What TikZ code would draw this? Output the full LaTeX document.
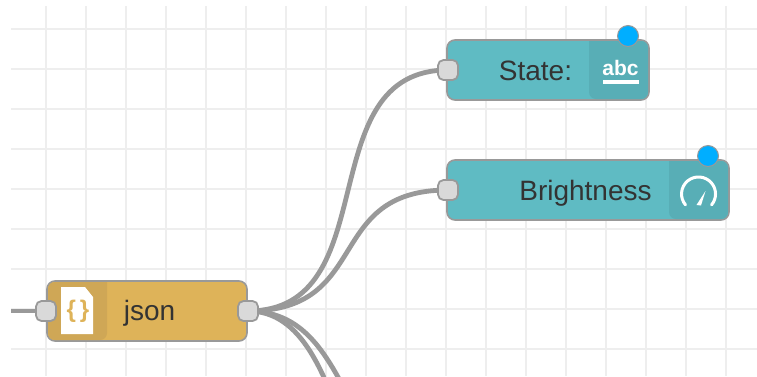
\documentclass[tikz,border=0pt]{standalone}
\usepackage{fontspec}
\setmainfont{Liberation Sans}
\pgfdeclarelayer{gridlayer}
\pgfdeclarelayer{wirelayer}
\pgfsetlayers{gridlayer,wirelayer,main}
\definecolor{tealbody}{HTML}{5FBBC3}
\definecolor{tealpanel}{HTML}{58AEB6}
\definecolor{goldbody}{HTML}{DEB359}
\definecolor{goldpanel}{HTML}{CFA756}
\definecolor{edge}{HTML}{999999}
\definecolor{portfill}{HTML}{D9D9D9}
\definecolor{wirecol}{HTML}{999999}
\definecolor{gridcol}{HTML}{EEEEEE}
\definecolor{dotblue}{HTML}{00AEFF}
\definecolor{labelcol}{HTML}{333333}
\tikzset{
  flownode/.style={draw=edge,line width=1.6pt,rounded corners=8pt,inner sep=0pt,minimum height=60pt},
  portbox/.style={draw=edge,fill=portfill,line width=1.8pt,rounded corners=5.5pt,inner sep=0pt,minimum width=20pt,minimum height=20pt},
  wire/.style={draw=wirecol,line width=4.8pt},
  statusdot/.style={circle,draw=edge,fill=dotblue,line width=1pt,inner sep=0pt,minimum size=21pt},
  nodelabel/.style={text=labelcol,font=\fontsize{28}{30}\selectfont,inner sep=0pt,anchor=base},
  gridline/.style={draw=gridcol,line width=2pt}
}
\begin{document}
\begin{tikzpicture}[x=1pt,y=-1pt]
\useasboundingbox (0,0) rectangle (757,376);
% nodes
\node[flownode,fill=tealbody,minimum width=202pt] (state) at (548,70) {};
\node[flownode,fill=tealbody,minimum width=282pt] (bright) at (588,190) {};
\node[flownode,fill=goldbody,minimum width=200pt] (json) at (147,311) {};
% icon panels
\fill[tealpanel,rounded corners=7pt] (589,41) -- (648,41) -- (648,99) -- (589,99) [sharp corners] -- cycle;
\fill[tealpanel,rounded corners=7pt] (669,161) -- (728,161) -- (728,219) -- (669,219) [sharp corners] -- cycle;
\fill[goldpanel,rounded corners=7pt] (107,282) -- (48,282) -- (48,340) -- (107,340) [sharp corners] -- cycle;
% ports
\node[portbox] (statein) at (448,70) {};
\node[portbox] (brightin) at (448,190) {};
\node[portbox] (jsonin) at (46,311) {};
\node[portbox] (jsonout) at (248,311) {};
% status dots
\node[statusdot] (statedot) at (628,36) {};
\node[statusdot] (brightdot) at (708,156) {};
% labels
\node[nodelabel] (statelabel) at (535.5,80) {State:};
\node[nodelabel] (brightlabel) at (585.5,200) {Brightness};
\node[nodelabel] (jsonlabel) at (149.5,320) {json};
% abc icon
\node[text=white,font=\bfseries\fontsize{21}{24}\selectfont,inner sep=0pt,anchor=base] (abc) at (620.5,75.5) {abc};
\fill[white] (602.5,80) rectangle (638.5,84);
% gauge icon
\draw[white,line width=3pt,line cap=round] (685.5,204.9) arc[start angle=220,end angle=-40,radius=17pt];
\fill[white] (696.5,205) -- (705.5,191) -- (701,205.5) -- cycle;
% document icon
\fill[white] (61,287) -- (85,287) -- (93,297) -- (93,334) -- (61,334) -- cycle;
\node[text=goldbody,font=\bfseries\fontsize{24}{26}\selectfont,inner sep=0pt] (braces) at (78,311) {\{\,\}};
% wires and grid
\begin{pgfonlayer}{gridlayer}
\fill[white] (0,0) rectangle (757,376);
\foreach \gx in {46,86,...,726} \draw[gridline] (\gx,6) -- (\gx,376);
\foreach \gy in {29,69,...,349} \draw[gridline] (11,\gy) -- (757,\gy);
\end{pgfonlayer}
\begin{pgfonlayer}{wirelayer}
\begin{scope}
\clip (0,0) rectangle (757,376);
\coordinate (leftend) at (11,311);
\coordinate (offa) at (448,480);
\coordinate (offb) at (448,570);
\draw[wire] (leftend) -- (jsonin.center);
\draw[wire] (jsonout.center) .. controls +(140,0) and +(-140,0) .. (statein.center);
\draw[wire] (jsonout.center) .. controls +(125,0) and +(-125,0) .. (brightin.center);
\draw[wire] (jsonout.center) .. controls +(110,0) and +(-110,0) .. (offa);
\draw[wire] (jsonout.center) .. controls +(110,0) and +(-110,0) .. (offb);
\end{scope}
\end{pgfonlayer}
\end{tikzpicture}
\end{document}
